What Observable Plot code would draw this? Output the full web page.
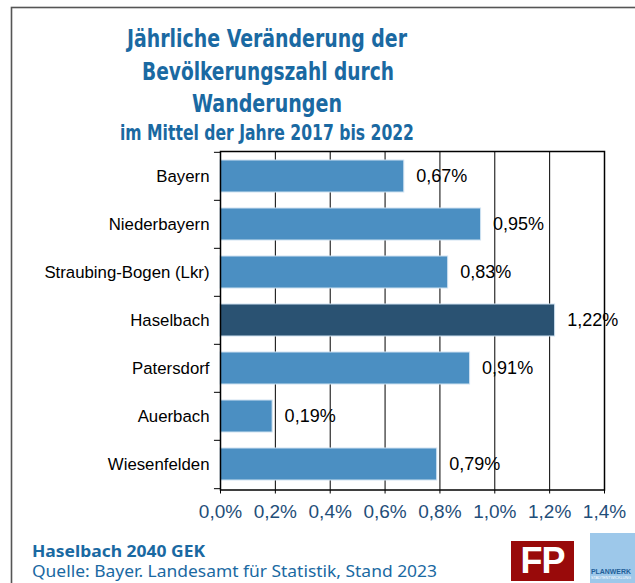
<!DOCTYPE html>
<html><head><meta charset="utf-8">
<script src="https://cdn.jsdelivr.net/npm/d3@7"></script>
<script src="https://cdn.jsdelivr.net/npm/@observablehq/plot@0.6"></script>
<style>
body{margin:0;background:#fff}
#wrap{position:relative;width:635px;height:583px;overflow:hidden}
#deco{position:absolute;left:0;top:0}
#chart{position:absolute;left:0;top:140px}
</style></head>
<body><div id="wrap">
<svg id="deco" width="635" height="583" xmlns="http://www.w3.org/2000/svg">
  <rect x="11.5" y="7.5" width="640" height="600" fill="none" stroke="#555" stroke-width="1.6"/>
  <g fill="#1a69a2" font-family="'DejaVu Sans Condensed','DejaVu Sans',sans-serif" font-weight="bold" text-anchor="middle" lengthAdjust="spacingAndGlyphs">
    <text x="267" y="47" font-size="24" textLength="280" lengthAdjust="spacingAndGlyphs">Jährliche Veränderung der</text>
    <text x="268" y="80" font-size="24" textLength="252" lengthAdjust="spacingAndGlyphs">Bevölkerungszahl durch</text>
    <text x="267" y="112" font-size="24" textLength="150" lengthAdjust="spacingAndGlyphs">Wanderungen</text>
    <text x="267" y="139.5" font-size="20.5" font-weight="600" textLength="294" lengthAdjust="spacingAndGlyphs">im Mittel der Jahre 2017 bis 2022</text>
  </g>
  <g fill="#1a69a2" font-family="'Noto Sans',sans-serif">
    <text x="32" y="557" font-size="15.5" font-weight="bold" textLength="173" lengthAdjust="spacingAndGlyphs">Haselbach 2040 GEK</text>
    <text x="32" y="577" font-size="15.5" textLength="405" lengthAdjust="spacingAndGlyphs">Quelle: Bayer. Landesamt für Statistik, Stand 2023</text>
  </g>
  <rect x="511" y="541" width="63" height="40" fill="#990a0a"/>
  <text x="542.5" y="573" fill="#fff" font-family="'Liberation Sans',sans-serif" font-weight="bold" font-size="36" text-anchor="middle" letter-spacing="-1">FP</text>
  <rect x="590" y="533" width="45" height="50" fill="#9dc8ea"/>
  <text x="611" y="574" fill="#1f5f99" font-family="'Liberation Sans',sans-serif" font-weight="bold" font-size="7" text-anchor="middle" textLength="40" lengthAdjust="spacingAndGlyphs">PLANWERK</text>
  <text x="611" y="579" fill="#fff" font-family="'Liberation Sans',sans-serif" font-size="3.5" text-anchor="middle" textLength="40" lengthAdjust="spacingAndGlyphs">STADTENTWICKLUNG</text>
</svg>
<div id="chart"></div>
</div>
<script>
const categories = ["Bayern","Niederbayern","Straubing-Bogen (Lkr)","Haselbach","Patersdorf","Auerbach","Wiesenfelden"];
const values = [0.67,0.95,0.83,1.22,0.91,0.19,0.79];
const highlight = "Haselbach";
const xTicks = [0,0.2,0.4,0.6,0.8,1.0,1.2,1.4];

const data = categories.map((c,i)=>({region:c, value:values[i]}));
const fmtVal = d => d.toFixed(2).replace(".",",")+"%";
const fmtTick = d => d.toFixed(1).replace(".",",")+"%";

const H = 390, MT = 11, MB = 40.5, ML = 220, MR = 31;
const step = (H - MT - MB) / categories.length;

const chart = Plot.plot({
  width: 635, height: H,
  marginTop: MT, marginBottom: MB, marginLeft: ML, marginRight: MR,
  style: {fontFamily: "'Liberation Sans', Arial, sans-serif", background: "transparent", overflow: "visible"},
  x: {domain: [0, 1.4], label: null},
  y: {domain: categories, paddingInner: 0.33, paddingOuter: 0.165, label: null},
  marks: [
    Plot.ruleX(xTicks.slice(1, -1), {stroke: "black", strokeWidth: 1}),
    Plot.barX(data, {
      x: "value", y: "region",
      fill: d => d.region === highlight ? "#2a5272" : "#4b8fc2",
      stroke: "#cfe2f1", strokeWidth: 1
    }),
    Plot.frame({stroke: "black", strokeWidth: 1.5}),
    Plot.ruleY(categories, {y: d => d, x1: -0.022, x2: 0, dy: -step/2, stroke: "black"}),
    Plot.ruleY(categories.slice(-1), {y: d => d, x1: -0.022, x2: 0, dy: step/2, stroke: "black"}),
    Plot.axisX({ticks: xTicks, tickFormat: fmtTick, tickSize: 4, tickPadding: 10, fontSize: 19, fill: "#1f4e79", stroke: "black"}),
    Plot.axisY({tickSize: 0, tickPadding: 11, fontSize: 16.8, fill: "black"}),
    Plot.text(data, {x: "value", y: "region", text: d => fmtVal(d.value), dx: 12, textAnchor: "start", fontSize: 18, fill: "black"})
  ]
});
document.getElementById("chart").appendChild(chart);
</script>
</body></html>
